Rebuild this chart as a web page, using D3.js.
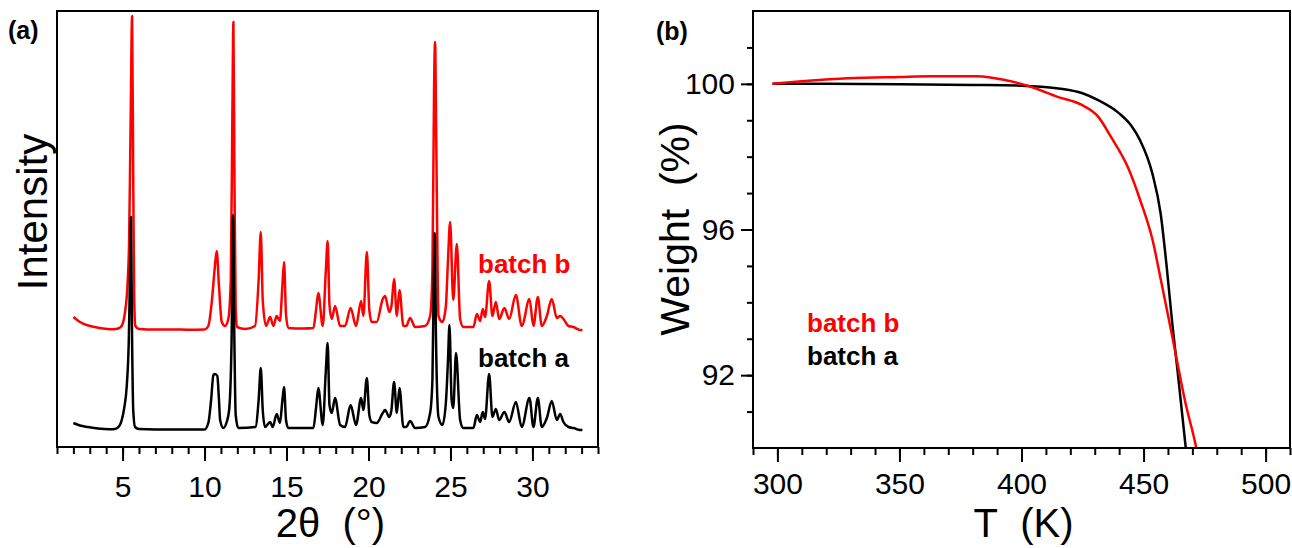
<!DOCTYPE html>
<html>
<head>
<meta charset="utf-8">
<script src="https://cdn.jsdelivr.net/npm/d3@7/dist/d3.min.js"></script>
<style>
  body { margin: 0; background: #fff; }
  svg { display: block; font-family: "Liberation Sans", Arial, sans-serif; }
</style>
</head>
<body>
<div id="chart"></div>
<script>
// (a) XRD patterns : [2theta, counts]
var xrdA = [[2.0,70],[2.4,45],[2.9,30],[3.5,15],[4.2,8],[4.54,10],[4.8,40],[4.95,100],[5.1,220],[5.25,430],[5.38,900],
  [5.45,1500],[5.51,2130],[5.58,900],[5.65,200],[5.76,30],[6.0,10],[8.0,5],[10.0,5],[10.23,70],[10.4,300],[10.54,550],
  [10.64,560],[10.78,540],[10.88,300],[10.95,100],[11.15,20],[11.35,80],[11.5,200],[11.65,900],[11.74,2150],[11.82,900],
  [11.9,150],[12.06,20],[13.1,30],[13.3,300],[13.43,620],[13.55,200],[13.69,30],[14.0,80],[14.16,30],[14.4,160],[14.6,70],
  [14.75,300],[14.85,430],[14.97,100],[15.11,20],[16.64,20],[16.8,220],[16.94,420],[17.21,50],[17.4,600],[17.51,870],
  [17.62,250],[17.76,170],[17.96,320],[18.27,50],[18.57,30],[18.91,250],[19.24,50],[19.55,320],[19.69,200],[19.9,520],
  [20.05,150],[20.2,80],[20.5,70],[20.87,170],[21.01,200],[21.27,130],[21.4,200],[21.56,480],[21.73,170],[21.89,420],
  [22.13,30],[22.3,30],[22.54,90],[22.84,20],[23.45,30],[23.76,170],[23.9,500],[23.98,1500],[24.04,1970],[24.12,900],
  [24.27,130],[24.51,50],[24.72,270],[24.85,700],[24.94,1050],[25.07,300],[25.17,220],[25.34,770],[25.59,100],[25.79,20],
  [26.4,20],[26.61,150],[26.81,80],[26.97,180],[27.11,110],[27.36,560],[27.56,130],[27.77,210],[27.97,100],[28.29,180],
  [28.58,80],[28.99,280],[29.35,30],[29.82,320],[30.06,30],[30.33,320],[30.57,30],[30.88,120],[31.18,290],[31.49,100],
  [31.69,160],[31.89,80],[32.2,30],[32.5,20],[32.9,0],[33.05,0]];

var xrdB = [[2.0,130],[2.4,80],[2.9,45],[3.3,30],[3.8,15],[4.3,8],[4.6,10],[4.85,25],[5.0,60],[5.15,180],[5.3,450],
  [5.4,900],[5.5,2200],[5.58,3140],[5.65,1500],[5.71,300],[5.78,40],[6.0,10],[7.0,5],[8.0,5],[9.0,3],[10.0,5],[10.23,40],
  [10.44,280],[10.6,580],[10.74,790],[10.88,440],[11.05,80],[11.25,40],[11.45,110],[11.6,500],[11.7,2200],[11.76,3080],
  [11.83,1400],[11.9,200],[11.98,30],[12.5,10],[13.08,40],[13.3,500],[13.43,980],[13.55,300],[13.75,40],[14.0,130],
  [14.2,40],[14.4,140],[14.6,90],[14.75,450],[14.85,680],[14.97,150],[15.11,20],[16.0,15],[16.64,20],[16.8,200],
  [16.94,370],[17.21,40],[17.4,600],[17.51,890],[17.62,250],[17.76,110],[17.96,240],[18.27,40],[18.57,40],[18.91,220],
  [19.24,40],[19.55,290],[19.69,140],[19.9,780],[20.05,200],[20.2,80],[20.5,80],[20.87,310],[21.01,340],[21.27,180],
  [21.4,240],[21.56,510],[21.73,140],[21.89,400],[22.13,40],[22.3,40],[22.54,120],[22.84,30],[23.45,40],[23.76,140],
  [23.9,600],[24.0,2400],[24.06,2880],[24.14,1800],[24.27,140],[24.51,80],[24.72,240],[24.85,700],[24.98,1080],
  [25.17,300],[25.39,860],[25.59,110],[25.79,30],[26.4,30],[26.61,160],[26.81,90],[26.97,210],[27.11,130],[27.36,490],
  [27.56,140],[27.77,280],[27.97,110],[28.29,220],[28.58,110],[28.99,350],[29.35,40],[29.82,310],[30.06,40],[30.33,330],
  [30.57,40],[30.88,140],[31.18,310],[31.49,120],[31.69,140],[31.89,110],[32.2,40],[32.5,30],[32.9,0],[33.05,0]];

var offsetB = 1000;   // vertical shift of batch b pattern
var xTicksA = [5, 10, 15, 20, 25, 30];

// (b) TGA curves : [T (K), weight %]
var tgaA = [[298,100.0],[320,100.0],[350,99.99],[380,99.97],[400,99.95],[414.4,99.88],[425,99.74],[431.4,99.55],
  [440,99.19],[445,98.85],[448.5,98.46],[453.6,97.54],[457,96.44],[459.6,94.9],[461.8,93.4],[463.9,92.14],[467.3,90.0],[469,88.9]];
var tgaB = [[298,100.0],[310,100.07],[329,100.15],[350,100.19],[363,100.21],[381.8,100.21],[393.6,100.1],[404.7,99.9],
  [414.5,99.65],[424.7,99.42],[431.4,99.1],[436.6,98.55],[443.5,97.72],[448.6,96.81],[453.7,95.71],[457.1,94.61],
  [461.8,93.05],[467.3,91.2],[471.6,90.0],[473,89.5]];

var xTicksB = [300, 350, 400, 450, 500];
var yTicksB = [92, 96, 100];

var width = 1292, height = 548;
var svg = d3.select("#chart").append("svg")
    .attr("width", width)
    .attr("height", height);

var fa = {left: 57, right: 598, top: 11, bottom: 447};
var fb = {left: 753, right: 1290, top: 11, bottom: 448};

// scales
var xA = d3.scaleLinear().domain([1, 34]).range([fa.left, fa.right]);
var yA = d3.scaleLinear().domain([-170, 4190]).range([fa.bottom, fa.top]);
var xB = d3.scaleLinear().domain([290, 510]).range([fb.left, fb.right]);
var yB = d3.scaleLinear().domain([90, 102]).range([fb.bottom, fb.top]);

// clip regions
var defs = svg.append("defs");
defs.append("clipPath").attr("id", "clipA").append("rect")
    .attr("x", fa.left).attr("y", fa.top).attr("width", fa.right - fa.left).attr("height", fa.bottom - fa.top);
defs.append("clipPath").attr("id", "clipB").append("rect")
    .attr("x", fb.left).attr("y", fb.top).attr("width", fb.right - fb.left).attr("height", fb.bottom - fb.top);

function styleAxis(g) {
  g.select(".domain").remove();
  g.selectAll(".tick line").attr("stroke", "#000").attr("stroke-width", 2);
  g.selectAll(".tick text").attr("font-size", 30).attr("fill", "#000")
    .attr("font-family", "'Liberation Sans', Arial, sans-serif");
}

// ---- panel (a) ----
var lineA = d3.line()
    .x(function (d) { return xA(d[0]); })
    .y(function (d) { return yA(d[1]); })
    .curve(d3.curveMonotoneX);
var lineAoff = d3.line()
    .x(function (d) { return xA(d[0]); })
    .y(function (d) { return yA(d[1] + offsetB); })
    .curve(d3.curveMonotoneX);

var pa = svg.append("g").attr("clip-path", "url(#clipA)");
pa.append("path").datum(xrdB)
    .attr("d", lineAoff).attr("fill", "none").attr("stroke", "#ff0000").attr("stroke-width", 2.5)
    .attr("stroke-linejoin", "round");
pa.append("path").datum(xrdA)
    .attr("d", lineA).attr("fill", "none").attr("stroke", "#000").attr("stroke-width", 2.5)
    .attr("stroke-linejoin", "round");

svg.append("g")
    .attr("transform", "translate(0," + fa.bottom + ")")
    .call(d3.axisBottom(xA).tickValues(d3.range(1, 35)).tickSize(7).tickFormat(""))
    .call(styleAxis);
svg.append("g")
    .attr("transform", "translate(0," + fa.bottom + ")")
    .call(d3.axisBottom(xA).tickValues(xTicksA).tickSize(14).tickPadding(15))
    .call(styleAxis);

svg.append("rect")
    .attr("x", fa.left).attr("y", fa.top)
    .attr("width", fa.right - fa.left).attr("height", fa.bottom - fa.top)
    .attr("fill", "none").attr("stroke", "#000").attr("stroke-width", 2);

svg.append("text").attr("x", 8).attr("y", 39)
    .attr("font-size", 25).attr("font-weight", "bold").text("(a)");

svg.append("text")
    .attr("transform", "translate(47," + 212 + ") rotate(-90)")
    .attr("text-anchor", "middle").attr("font-size", 42).text("Intensity");

svg.append("text")
    .attr("x", (fa.left + fa.right) / 2 + 3).attr("y", 537)
    .attr("text-anchor", "middle").attr("font-size", 40).text("2\u03b8\u00a0 (\u00b0)");

svg.append("text").attr("x", 478).attr("y", 273)
    .attr("font-size", 26).attr("font-weight", "bold").attr("fill", "#ff0000").text("batch b");
svg.append("text").attr("x", 478).attr("y", 367)
    .attr("font-size", 26).attr("font-weight", "bold").attr("fill", "#000").text("batch a");

// ---- panel (b) ----
var lineB = d3.line()
    .x(function (d) { return xB(d[0]); })
    .y(function (d) { return yB(d[1]); })
    .curve(d3.curveMonotoneX);

var pb = svg.append("g").attr("clip-path", "url(#clipB)");
pb.append("path").datum(tgaA)
    .attr("d", lineB).attr("fill", "none").attr("stroke", "#000").attr("stroke-width", 2.5);
pb.append("path").datum(tgaB)
    .attr("d", lineB).attr("fill", "none").attr("stroke", "#ff0000").attr("stroke-width", 2.5);

svg.append("g")
    .attr("transform", "translate(0," + fb.bottom + ")")
    .call(d3.axisBottom(xB).tickValues(d3.range(290, 511, 10)).tickSize(7).tickFormat(""))
    .call(styleAxis);
svg.append("g")
    .attr("transform", "translate(0," + fb.bottom + ")")
    .call(d3.axisBottom(xB).tickValues(xTicksB).tickSize(14).tickPadding(11))
    .call(styleAxis);

svg.append("g")
    .attr("transform", "translate(" + fb.left + ",0)")
    .call(d3.axisLeft(yB).tickValues(d3.range(91, 102)).tickSize(6).tickFormat(""))
    .call(styleAxis);
svg.append("g")
    .attr("transform", "translate(" + fb.left + ",0)")
    .call(d3.axisLeft(yB).tickValues(yTicksB).tickSize(12).tickPadding(6))
    .call(styleAxis);

svg.append("rect")
    .attr("x", fb.left).attr("y", fb.top)
    .attr("width", fb.right - fb.left).attr("height", fb.bottom - fb.top)
    .attr("fill", "none").attr("stroke", "#000").attr("stroke-width", 2);

svg.append("text").attr("x", 656).attr("y", 40)
    .attr("font-size", 25).attr("font-weight", "bold").text("(b)");

svg.append("text")
    .attr("transform", "translate(689," + 229 + ") rotate(-90)")
    .attr("text-anchor", "middle").attr("font-size", 41).text("Weight\u00a0 (%)");

svg.append("text")
    .attr("x", (fb.left + fb.right) / 2 + 2).attr("y", 537)
    .attr("text-anchor", "middle").attr("font-size", 40).text("T\u00a0 (K)");

svg.append("text").attr("x", 807).attr("y", 332)
    .attr("font-size", 26).attr("font-weight", "bold").attr("fill", "#ff0000").text("batch b");
svg.append("text").attr("x", 807).attr("y", 365)
    .attr("font-size", 26).attr("font-weight", "bold").attr("fill", "#000").text("batch a");
</script>
</body>
</html>
